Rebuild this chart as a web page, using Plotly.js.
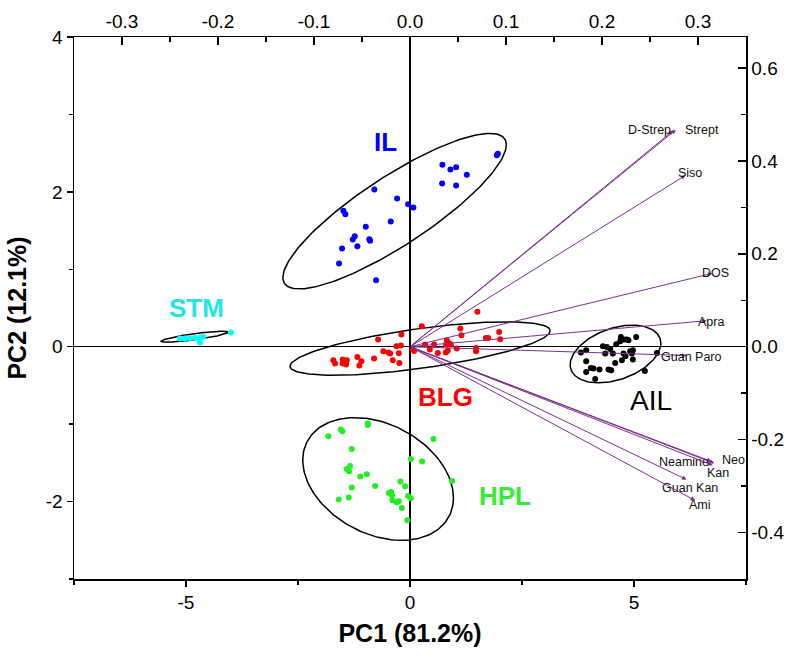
<!DOCTYPE html>
<html>
<head>
<meta charset="utf-8">
<script src="https://cdn.plot.ly/plotly-3.0.1.min.js"></script>
<style>html,body{margin:0;padding:0;background:#fff;}#chart{width:800px;height:667px;}</style>
</head>
<body>
<div id="chart"></div>
<script>
// ---- PC scores (PC1, PC2) per group ----
const IL_x = [0.724,0.902,1.029,1.268,0.717,1.029,1.938,1.961,-0.795,-0.288,-0.042,0.076,-1.487,-1.443,-0.429,-0.987,-1.233,-1.277,-0.907,-0.891,-1.516,-1.175,-1.583,-0.757];
const IL_y = [2.349,2.290,2.319,2.220,2.109,2.083,2.474,2.491,2.031,1.915,1.841,1.799,1.755,1.712,1.618,1.548,1.428,1.385,1.389,1.367,1.269,1.299,1.075,0.859];

const BLG_x = [1.505,0.264,1.125,-0.192,1.148,1.990,2.012,-0.712,1.693,1.744,-0.304,-0.205,0.337,0.538,0.822,0.806,0.880,0.911,0.063,0.092,0.442,0.621,0.799,0.844,1.045,1.476,1.476,-0.594,-0.482,-0.444,-0.250,-1.175,-1.085,-0.802,-0.384,-0.237,-1.711,-1.673,-1.501,-1.411,-1.501,-1.427,-1.130];
const BLG_y = [0.450,0.265,0.235,0.158,0.149,0.191,0.097,0.093,0.114,0.114,0.006,0.016,0.028,0.028,0.084,0.028,0.041,0.028,-0.036,-0.054,-0.036,-0.080,-0.075,-0.049,-0.023,-0.016,-0.058,-0.058,-0.075,-0.088,-0.084,-0.132,-0.187,-0.152,-0.174,-0.209,-0.174,-0.217,-0.165,-0.174,-0.217,-0.230,-0.243];

const HPL_x = [-0.942,-0.942,-1.545,-1.510,-1.822,0.523,-1.300,0.018,0.270,-1.338,-1.411,-1.360,-1.108,-0.965,0.940,-0.214,-0.109,-1.300,-0.779,-0.473,-0.422,-0.400,-1.367,-1.590,-0.042,0.018,-0.393,-0.295,-0.250,-0.183,-0.058];
const HPL_y = [-0.992,-1.010,-1.070,-1.092,-1.156,-1.191,-1.321,-1.450,-1.483,-1.540,-1.579,-1.609,-1.677,-1.648,-1.734,-1.742,-1.803,-1.819,-1.799,-1.889,-1.876,-1.919,-1.949,-1.974,-1.928,-1.958,-1.983,-2.009,-1.996,-2.083,-2.242];

const AIL_x = [4.707,4.781,4.841,5.049,4.692,4.877,4.603,4.395,4.305,4.469,3.933,3.814,4.357,4.766,4.915,4.975,4.810,4.529,4.953,4.730,4.580,3.933,4.038,4.096,4.230,3.933,4.431,4.491,4.134,4.975,5.243,5.511];
const AIL_y = [0.127,0.093,0.093,0.127,0.071,0.084,0.032,-0.003,0.006,-0.028,-0.045,-0.075,-0.088,-0.088,-0.058,-0.045,-0.123,-0.088,-0.088,-0.174,-0.209,-0.187,-0.274,-0.282,-0.295,-0.326,-0.295,-0.304,-0.416,-0.165,-0.313,-0.080];

const STM_x = [-5.134,-5.022,-4.911,-4.799,-4.687,-4.614,-4.687,-3.995];
const STM_y = [0.106,0.106,0.110,0.114,0.119,0.127,0.054,0.183];

// ---- Confidence ellipses: center, half-extent x, half-extent y, correlation ----
const ellipseGroups = ['STM','IL','BLG','HPL','AIL'];
const ellipseCx  = [-4.810, -0.344, 0.225, -0.712, 4.587];
const ellipseCy  = [ 0.129,  1.751, -0.023, -1.708, -0.094];
const ellipseHx  = [ 0.748,  2.494, 2.903,  1.682, 1.012];
const ellipseHy  = [ 0.070,  1.004, 0.345,  0.792, 0.372];
const ellipseRho = [ 0.83,   0.853, 0.663, -0.308, 0.373];

// ---- Loadings (top / right axes) ----
const loadNames = ['D-Strep','Strept','Siso','DOS','Apra','Guan Paro','Neamine','Neo','Kan','Guan Kan','Ami'];
const loadX = [0.274,0.277,0.287,0.315,0.309,0.288,0.314,0.317,0.315,0.288,0.297];
const loadY = [0.465,0.467,0.369,0.158,0.056,-0.019,-0.247,-0.251,-0.255,-0.286,-0.331];

// ---- Tick labels ----
const xTicks = [-5,0,5];
const yTicks = [-2,0,2,4];
const x2Ticks = [-0.3,-0.2,-0.1,0.0,0.1,0.2,0.3];
const y2Ticks = [-0.4,-0.2,0.0,0.2,0.4,0.6];

// styling (not data)
const FONT = 'Liberation Sans, Arial, sans-serif';
const groupColors = {IL:'#0000ff', BLG:'#ff0000', HPL:'#22ee22', AIL:'#000000', STM:'#00ffff'};
const labelShift = {
  'D-Strep':[-24,1],'Strept':[26,0],'Siso':[4,2],'DOS':[3,0],'Apra':[4,-1],
  'Guan Paro':[5,-1],'Neamine':[-27,-1],'Neo':[19,3],'Kan':[6,-8],'Guan Kan':[4,-8],'Ami':[5,-5]
};
const ARROW = '#7f2f8f';

function ellipsePts(cx, cy, hx, hy, rho) {
  const xs = [], ys = [];
  const s = Math.sqrt(1 - rho * rho);
  for (let i = 0; i <= 180; i++) {
    const t = 2 * Math.PI * i / 180;
    xs.push(cx + hx * Math.cos(t));
    ys.push(cy + hy * (rho * Math.cos(t) + s * Math.sin(t)));
  }
  return [xs, ys];
}

const traces = [];
ellipseGroups.forEach((g, i) => {
  const [ex, ey] = ellipsePts(ellipseCx[i], ellipseCy[i], ellipseHx[i], ellipseHy[i], ellipseRho[i]);
  traces.push({x: ex, y: ey, mode: 'lines', line: {color: '#000', width: 1.5}, hoverinfo: 'skip', showlegend: false});
});
const groups = {IL:[IL_x,IL_y], BLG:[BLG_x,BLG_y], HPL:[HPL_x,HPL_y], AIL:[AIL_x,AIL_y], STM:[STM_x,STM_y]};
Object.keys(groups).forEach(g => {
  traces.push({x: groups[g][0], y: groups[g][1], mode: 'markers', name: g,
    marker: {color: groupColors[g], size: 6}, showlegend: false});
});
// invisible trace to activate the loading axes
traces.push({x: loadX, y: loadY, xaxis: 'x2', yaxis: 'y2', mode: 'markers',
  marker: {opacity: 0}, hoverinfo: 'skip', showlegend: false});

const annotations = [];
loadNames.forEach((n, i) => {
  annotations.push({x: loadX[i], y: loadY[i], xref: 'x2', yref: 'y2', axref: 'x2', ayref: 'y2',
    ax: 0, ay: 0, text: '', showarrow: true, arrowhead: 2, arrowsize: 0.9, arrowwidth: 1,
    arrowcolor: ARROW, standoff: 0, startstandoff: 0});
  annotations.push({x: loadX[i], y: loadY[i], xref: 'x2', yref: 'y2', text: n, showarrow: false,
    xshift: labelShift[n][0], yshift: labelShift[n][1],
    font: {family: FONT, size: 12.5, color: '#111'}});
});
const groupLabels = [
  {t:'IL', x:-0.54, y:2.642, c:groupColors.IL, b:true},
  {t:'STM', x:-4.761, y:0.494, c:'#22e6e6', b:true},
  {t:'BLG', x:0.784, y:-0.649, c:groupColors.BLG, b:true},
  {t:'HPL', x:2.127, y:-1.932, c:'#33ee33', b:true},
  {t:'AIL', x:5.377, y:-0.691, c:'#000', b:false}
];
groupLabels.forEach(l => annotations.push({x: l.x, y: l.y, xref: 'x', yref: 'y', showarrow: false,
  text: l.b ? '<b>' + l.t + '</b>' : l.t, font: {family: FONT, size: l.b ? 26 : 28, color: l.c}}));

const tickFont = {family: FONT, size: 19, color: '#000'};
const layout = {
  width: 800, height: 667,
  margin: {l: 74, r: 54, t: 37, b: 88},
  paper_bgcolor: '#fff', plot_bgcolor: '#fff',
  showlegend: false,
  xaxis: {range: [-7.5, 7.5], tickvals: xTicks, ticktext: xTicks.map(String), ticks: 'outside', ticklen: 6,
    minor: {tickvals: [-7.5,-2.5,2.5,7.5], ticks: 'outside', ticklen: 4, tickcolor: '#000'},
    showline: true, linecolor: '#000', linewidth: 1.5, tickcolor: '#000', tickwidth: 1.5,
    showgrid: false, zeroline: true, zerolinecolor: '#000', zerolinewidth: 1.5,
    tickfont: tickFont, title: {text: '<b>PC1 (81.2%)</b>', font: {family: FONT, size: 25, color: '#000'}, standoff: 12}},
  yaxis: {range: [-3, 4], tickvals: yTicks, ticktext: yTicks.map(String), ticks: 'outside', ticklen: 6,
    minor: {tickvals: [-3,-1,1,3], ticks: 'outside', ticklen: 4, tickcolor: '#000'},
    showline: true, linecolor: '#000', linewidth: 1.5, tickcolor: '#000', tickwidth: 1.5,
    showgrid: false, zeroline: true, zerolinecolor: '#000', zerolinewidth: 1.5,
    tickfont: tickFont, title: {text: '<b>PC2 (12.1%)</b>', font: {family: FONT, size: 25, color: '#000'}, standoff: 12}},
  xaxis2: {overlaying: 'x', side: 'top', anchor: 'y', range: [-0.35, 0.35], tickvals: x2Ticks,
    ticktext: x2Ticks.map(v => v.toFixed(1)), ticks: 'inside', ticklen: 8,
    minor: {tickvals: [-0.35,-0.25,-0.15,-0.05,0.05,0.15,0.25,0.35], ticks: 'inside', ticklen: 5, tickcolor: '#000'},
    showline: true, linecolor: '#000', linewidth: 1.5, tickcolor: '#000', tickwidth: 1.5,
    showgrid: false, zeroline: false, tickfont: tickFont},
  yaxis2: {overlaying: 'y', side: 'right', anchor: 'x', range: [-0.5, 0.6667], tickvals: y2Ticks,
    ticktext: y2Ticks.map(v => v.toFixed(1)), ticks: 'inside', ticklen: 8,
    minor: {tickvals: [-0.5,-0.3,-0.1,0.1,0.3,0.5], ticks: 'inside', ticklen: 5, tickcolor: '#000'},
    showline: true, linecolor: '#000', linewidth: 1.5, tickcolor: '#000', tickwidth: 1.5,
    showgrid: false, zeroline: false, tickfont: tickFont},
  annotations: annotations
};
Plotly.newPlot('chart', traces, layout, {staticPlot: true});
</script>
</body>
</html>
